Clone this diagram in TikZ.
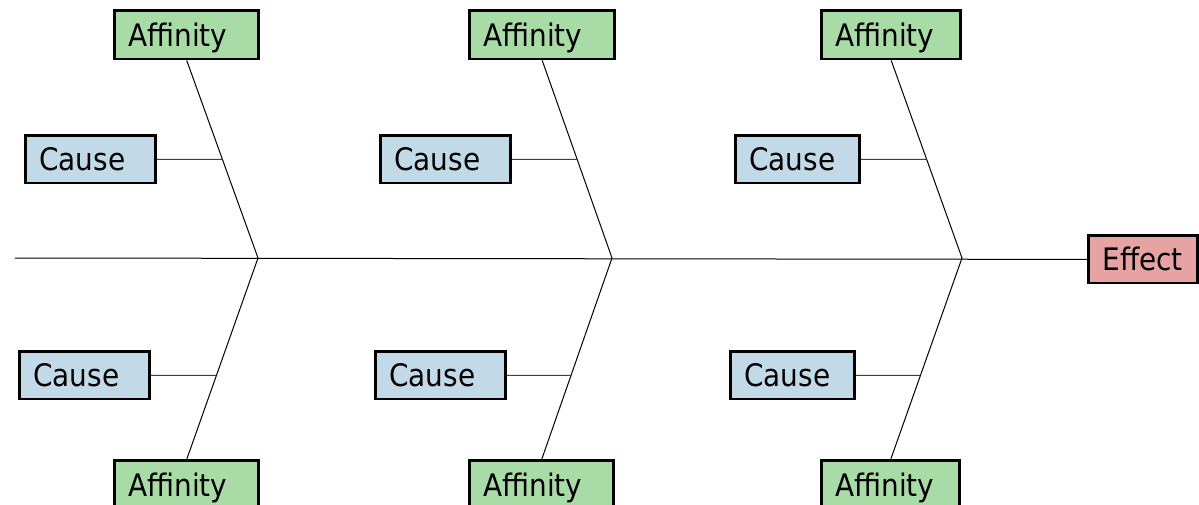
\documentclass[tikz,border=0pt]{standalone}
\usepackage{fontspec}
\setmainfont{DejaVu Sans Condensed}
\definecolor{affg}{RGB}{169,219,167}
\definecolor{causeb}{RGB}{194,218,231}
\definecolor{effp}{RGB}{230,163,163}
\tikzset{
  box/.style={draw=black, line width=2.8pt, anchor=north west, inner xsep=13.6pt, inner ysep=0pt,
    text height=22.5pt, text depth=0pt, align=left, font=\fontsize{31}{37}\selectfont},
  affbox/.style={box, fill=affg, minimum height=48.2pt},
  causebox/.style={box, fill=causeb, minimum height=47.2pt},
  effbox/.style={box, fill=effp, minimum height=47.2pt},
  ln/.style={draw=black, line width=1pt},
  cn/.style={draw=black!75, line width=1pt}
}
\begin{document}
\begin{tikzpicture}[x=1pt,y=-1pt]
\useasboundingbox (0,0) rectangle (1199,504);
% junctions
\coordinate (j1) at (258,258);
\coordinate (j2) at (612,258);
\coordinate (j3) at (962,258);
\coordinate (s0) at (15,258);
% group 1
\node[affbox, text width=116.6pt] (a1t) at (113.4,9.4) {Affinity};
\node[causebox, text width=102.6pt] (c1t) at (24.4,134.4) {Cause};
\node[causebox, text width=102.6pt] (c1b) at (18.4,350.4) {Cause};
\node[affbox, text width=116.6pt] (a1b) at (113.4,459.4) {Affinity};
% group 2
\node[affbox, text width=117.6pt] (a2t) at (468.4,9.4) {Affinity};
\node[causebox, text width=102.6pt] (c2t) at (379.4,134.4) {Cause};
\node[causebox, text width=102.6pt] (c2b) at (374.4,350.4) {Cause};
\node[affbox, text width=116.6pt] (a2b) at (468.4,459.4) {Affinity};
% group 3
\node[affbox, text width=111.6pt] (a3t) at (820.4,9.4) {Affinity};
\node[causebox, text width=96.6pt] (c3t) at (734.4,134.4) {Cause};
\node[causebox, text width=96.6pt] (c3b) at (729.4,350.4) {Cause};
\node[affbox, text width=110.6pt] (a3b) at (820.4,459.4) {Affinity};
% effect
\node[effbox, text width=81.6pt] (e) at (1087.4,234.4) {Effect};
% spine
\draw[ln] (s0) -- (e.west);
% bones
\draw[ln] (a1t.south) -- (j1) -- (a1b.north);
\draw[ln] (a2t.south) -- (j2) -- (a2b.north);
\draw[ln] (a3t.south) -- (j3) -- (a3b.north);
% cause connectors
\draw[cn] (c1t.east) -- (intersection of c1t.east--c1t.west and a1t.south--j1);
\draw[cn] (c1b.east) -- (intersection of c1b.east--c1b.west and a1b.north--j1);
\draw[cn] (c2t.east) -- (intersection of c2t.east--c2t.west and a2t.south--j2);
\draw[cn] (c2b.east) -- (intersection of c2b.east--c2b.west and a2b.north--j2);
\draw[cn] (c3t.east) -- (intersection of c3t.east--c3t.west and a3t.south--j3);
\draw[cn] (c3b.east) -- (intersection of c3b.east--c3b.west and a3b.north--j3);
\end{tikzpicture}
\end{document}
